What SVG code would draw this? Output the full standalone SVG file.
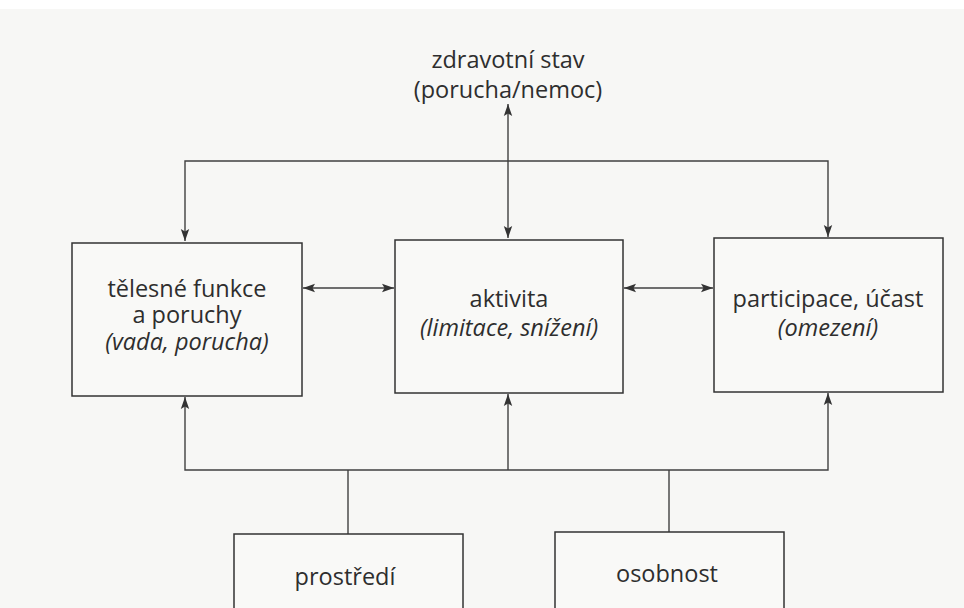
<svg xmlns="http://www.w3.org/2000/svg" width="964" height="608" viewBox="0 0 964 608">
<defs>
<marker id="ah" viewBox="0 0 12 10" refX="12" refY="5" markerWidth="12" markerHeight="10" markerUnits="userSpaceOnUse" orient="auto-start-reverse">
<path d="M0,0.8 L12,5 L0,9.2 L2.5,5 Z" fill="#333333"/>
</marker>
<style>
.bx{fill:#f9f9f7;stroke:#333333;stroke-width:1.5}
.ln{fill:none;stroke:#404040;stroke-width:1.4}
.t{font-family:"Open Sans","Noto Sans","DejaVu Sans",sans-serif;font-size:23.5px;fill:#2e2e2e;text-anchor:middle}
.i{font-style:italic}
</style>
</defs>
<rect x="0" y="0" width="964" height="608" fill="#f7f7f5"/>
<rect x="0" y="0" width="964" height="9" fill="#ffffff"/>
<g id="connectors">
<line class="ln" x1="508" y1="104" x2="508" y2="238" marker-start="url(#ah)" marker-end="url(#ah)"/>
<polyline class="ln" points="185,241 185,161 828,161 828,237" marker-start="url(#ah)" marker-end="url(#ah)"/>
<line class="ln" x1="303" y1="288" x2="394" y2="288" marker-start="url(#ah)" marker-end="url(#ah)"/>
<line class="ln" x1="624" y1="288" x2="713" y2="288" marker-start="url(#ah)" marker-end="url(#ah)"/>
<polyline class="ln" points="185,397 185,470 828,470 828,393" marker-start="url(#ah)" marker-end="url(#ah)"/>
<line class="ln" x1="508" y1="470" x2="508" y2="394" marker-end="url(#ah)"/>
<line class="ln" x1="348" y1="470" x2="348" y2="534"/>
<line class="ln" x1="669" y1="470" x2="669" y2="532"/>
</g>
<g id="zdravotni-stav">
<text class="t" x="508" y="68">zdravotní stav</text>
<text class="t" x="508" y="98">(porucha/nemoc)</text>
</g>
<g id="telesne-funkce">
<rect class="bx" x="72" y="243" width="230" height="153"/>
<text class="t" x="187" y="297">tělesné funkce</text>
<text class="t" x="187" y="323">a poruchy</text>
<text class="t i" x="187" y="350">(vada, porucha)</text>
</g>
<g id="aktivita">
<rect class="bx" x="395" y="240" width="228" height="153"/>
<text class="t" x="509" y="307">aktivita</text>
<text class="t i" x="509" y="336">(limitace, snížení)</text>
</g>
<g id="participace">
<rect class="bx" x="714" y="238" width="229" height="154"/>
<text class="t" x="828" y="307">participace, účast</text>
<text class="t i" x="828" y="336">(omezení)</text>
</g>
<g id="prostredi">
<rect class="bx" x="234" y="534" width="229" height="90"/>
<text class="t" x="345" y="585">prostředí</text>
</g>
<g id="osobnost">
<rect class="bx" x="555" y="532" width="229" height="90"/>
<text class="t" x="667" y="582">osobnost</text>
</g>
</svg>
